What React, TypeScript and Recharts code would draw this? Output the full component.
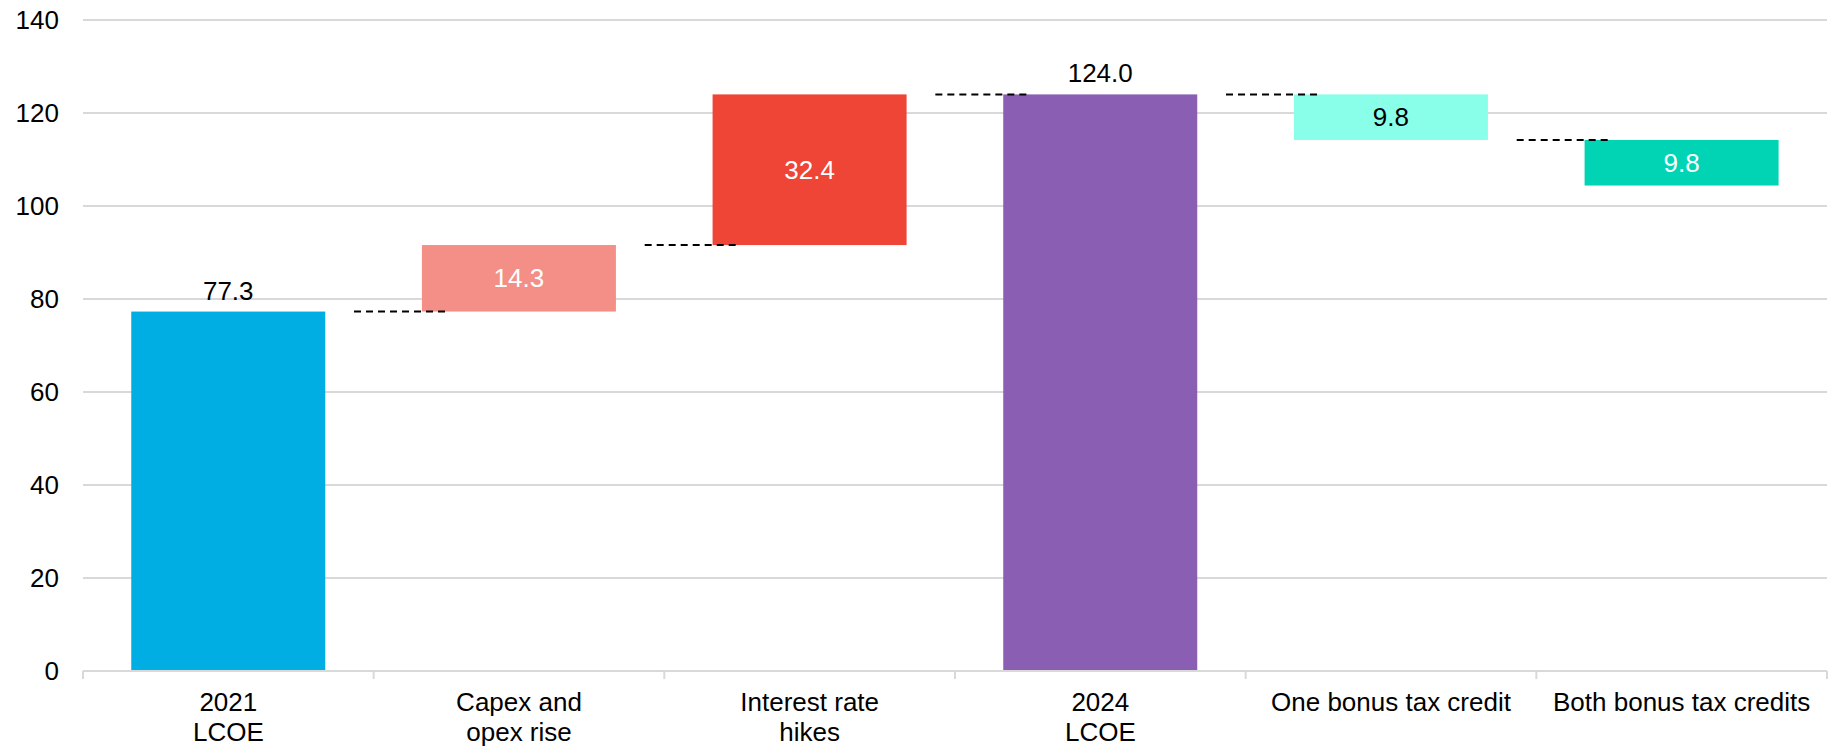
import * as React from 'react';
import {
  BarChart,
  Bar,
  XAxis,
  YAxis,
  CartesianGrid,
  Cell,
  LabelList,
} from 'recharts';

// waterfall steps: totals start from zero, the rest move the running total
const categories = [
  '2021\nLCOE',
  'Capex and\nopex rise',
  'Interest rate\nhikes',
  '2024\nLCOE',
  'One bonus tax credit',
  'Both bonus tax credits',
];
const changes = [77.3, 14.3, 32.4, 124.0, -9.8, -9.8];
const isTotal = [true, false, false, true, false, false];
const barColors = ['#00AEE3', '#F48F87', '#EE4536', '#8A5EB2', '#89FFEA', '#00D4B5'];
const labelColors = ['#000000', '#FFFFFF', '#FFFFFF', '#000000', '#000000', '#FFFFFF'];
const yTicks = [0, 20, 40, 60, 80, 100, 120, 140];

const FONT = '"Liberation Sans", Arial, Helvetica, sans-serif';
const FONT_SIZE = 26;

type Row = { name: string; range: [number, number]; link: number | null };

const rows: Row[] = (() => {
  let running = 0;
  return categories.map((name, i) => {
    const prev = running;
    let low: number;
    let high: number;
    if (isTotal[i]) {
      low = 0;
      high = changes[i];
      running = changes[i];
    } else {
      running = prev + changes[i];
      low = Math.min(prev, running);
      high = Math.max(prev, running);
    }
    return { name, range: [low, high], link: i === 0 ? null : prev };
  });
})();

// bar rectangle plus the dashed connector coming in from the previous step
const WaterfallBar = (props: any) => {
  const { x, y, width, height, fill, index } = props;
  const row = rows[index];
  const [low, high] = row.range;
  let connector = null;
  if (row.link !== null && high > low) {
    const perUnit = height / (high - low);
    const ly = y + height - (row.link - low) * perUnit;
    connector = (
      <line
        x1={x - width * 0.35}
        x2={x + width * 0.13}
        y1={ly}
        y2={ly}
        stroke="#000"
        strokeWidth={2}
        strokeDasharray="7 5"
      />
    );
  }
  return (
    <g>
      <rect x={x} y={y} width={width} height={height} fill={fill} />
      {connector}
    </g>
  );
};

const renderValueLabel = (props: any) => {
  const { x, y, width, height, index } = props;
  const text = Math.abs(changes[index]).toFixed(1);
  if (isTotal[index]) {
    return (
      <text
        x={x + width / 2}
        y={y - 12}
        textAnchor="middle"
        fontFamily={FONT}
        fontSize={FONT_SIZE}
        fill={labelColors[index]}
      >
        {text}
      </text>
    );
  }
  return (
    <text
      x={x + width / 2}
      y={y + height / 2}
      textAnchor="middle"
      dominantBaseline="central"
      fontFamily={FONT}
      fontSize={FONT_SIZE}
      fill={labelColors[index]}
    >
      {text}
    </text>
  );
};

// category text split on line breaks, tick marks sit on the band edges
const CategoryTick = (props: any) => {
  const { x, y, payload, index } = props;
  const half = payload?.offset ?? (1832 - 83 - 5) / 12;
  const lines = String(payload.value).split('\n');
  return (
    <g>
      <line x1={x - half} x2={x - half} y1={y} y2={y + 8} stroke="#D9D9D9" strokeWidth={2} />
      {index === categories.length - 1 && (
        <line x1={x + half} x2={x + half} y1={y} y2={y + 8} stroke="#D9D9D9" strokeWidth={2} />
      )}
      <text x={x} y={y} textAnchor="middle" fontFamily={FONT} fontSize={FONT_SIZE} fill="#000">
        {lines.map((line, i) => (
          <tspan key={i} x={x} dy={i === 0 ? 40 : 30}>
            {line}
          </tspan>
        ))}
      </text>
    </g>
  );
};

export default function App() {
  return (
    <div style={{ position: 'absolute', left: 0, top: 0, width: 1832, height: 747, background: '#fff' }}>
      <BarChart
        width={1832}
        height={747}
        data={rows}
        margin={{ top: 20, right: 5, left: 0, bottom: 0 }}
        barCategoryGap="16.6%"
      >
        <CartesianGrid vertical={false} stroke="#D9D9D9" strokeWidth={2} />
        <XAxis
          dataKey="name"
          height={76}
          tickSize={0}
          tickMargin={0}
          tickLine={false}
          axisLine={{ stroke: '#D9D9D9', strokeWidth: 2 }}
          interval={0}
          tick={<CategoryTick />}
        />
        <YAxis
          width={83}
          domain={[0, 140]}
          ticks={yTicks}
          tickSize={0}
          tickMargin={24}
          tickLine={false}
          axisLine={false}
          tick={{ fill: '#000', fontSize: FONT_SIZE, fontFamily: FONT }}
        />
        <Bar dataKey="range" isAnimationActive={false} shape={<WaterfallBar />}>
          {rows.map((_, i) => (
            <Cell key={i} fill={barColors[i]} />
          ))}
          <LabelList dataKey="range" content={renderValueLabel} />
        </Bar>
      </BarChart>
    </div>
  );
}
